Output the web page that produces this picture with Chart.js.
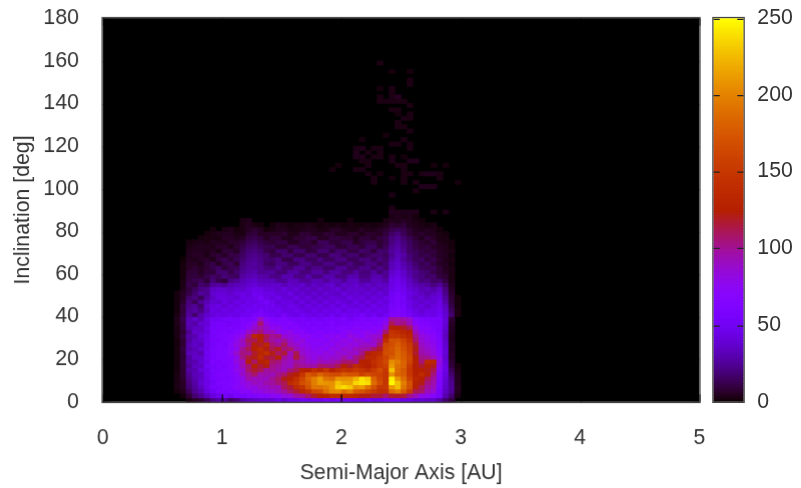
<!DOCTYPE html>
<html><head><meta charset="utf-8">
<script src="https://cdn.jsdelivr.net/npm/chart.js@4/dist/chart.umd.min.js"></script>
<style>html,body{margin:0;padding:0;background:#fff;width:801px;height:488px;overflow:hidden}canvas{position:absolute;top:0;transform-origin:0 0;transform:scale(1.2516)}</style>
</head><body>
<canvas id="map" width="564" height="390" style="left:0"></canvas>
<canvas id="bar" width="76" height="390" style="left:705.9px"></canvas>
<script>
const xTicks=[0,1,2,3,4,5];
const yTicks=[0,20,40,60,80,100,120,140,160,180];
const cbarTicks=[0,50,100,150,200,250];
const binA=0.05, binI=2, firstCol=12;
// counts per semi-major-axis bin (0.60 AU upward), one array per 2-degree inclination band
const inc0=[0,0,3,6,8,14,22,28,26,16,20,28,32,34,36,38,38,44,38,46,46,50,48,52,48,54,48,54,48,50,48,46,50,44,46,52,48,50,44,44,38,40,36,36,28,18,10,0];
const inc2=[0,2,8,18,24,32,42,48,54,48,56,56,62,60,68,66,74,72,82,84,96,98,108,118,126,128,138,138,136,136,132,122,122,116,116,108,118,118,116,102,92,78,76,68,54,30,18,3];
const inc4=[2,4,14,24,30,42,50,60,58,62,62,72,70,80,80,86,86,92,98,108,116,132,142,162,166,188,202,204,188,198,178,172,162,152,142,142,188,198,178,152,112,108,92,86,58,34,24,5];
const inc6=[3,6,18,26,34,44,56,56,62,60,72,74,82,80,88,88,94,92,110,116,138,148,172,192,192,198,208,232,238,230,208,212,192,172,148,150,212,226,192,168,124,112,98,92,60,36,25,6];
const inc8=[3,6,20,28,38,46,52,62,60,66,68,80,84,92,88,96,98,106,112,138,148,168,178,198,212,208,206,228,218,216,236,242,238,188,168,148,248,226,198,172,128,122,104,96,62,38,24,5];
const inc10=[3,7,22,30,36,44,56,58,62,60,70,78,96,90,92,90,100,108,122,128,142,162,184,198,212,192,188,208,206,208,222,240,232,182,162,148,244,208,188,158,132,126,112,98,66,40,22,5];
const inc12=[3,8,24,32,34,48,54,62,60,66,70,88,98,108,94,96,92,102,108,120,126,148,176,168,184,172,168,166,178,172,172,158,168,162,158,148,206,184,178,150,128,138,124,104,68,42,18,4];
const inc14=[2,8,28,30,40,46,56,56,62,64,78,86,108,118,112,98,100,96,92,104,112,128,126,142,132,148,126,138,146,142,152,146,138,152,166,150,228,188,176,148,126,128,122,112,72,44,14,3];
const inc16=[2,8,24,34,34,50,54,60,58,66,74,94,106,128,116,122,102,98,92,90,104,100,98,96,108,106,104,112,128,118,138,130,124,138,152,158,212,190,182,152,124,118,128,120,78,44,10,2];
const inc18=[2,9,28,30,38,46,60,58,62,64,82,92,124,108,128,132,108,104,94,90,98,94,88,86,92,90,94,98,106,108,102,128,128,142,152,164,205,196,182,162,128,106,136,134,82,42,8,0];
const inc20=[2,8,26,36,36,48,56,62,64,66,78,102,116,122,138,118,114,126,98,92,116,96,86,78,88,82,88,86,98,88,104,112,134,136,148,160,178,188,178,164,124,102,100,92,76,38,6,0];
const inc22=[2,8,32,34,30,50,58,60,60,72,88,104,102,118,132,140,122,108,116,92,112,88,82,80,76,84,78,88,84,90,88,102,122,132,138,168,170,186,176,158,118,96,92,84,68,40,6,0];
const inc24=[2,10,28,32,38,46,56,60,62,68,76,100,112,128,136,122,112,120,104,108,92,86,80,74,78,72,82,80,88,84,92,96,98,110,120,165,172,184,170,156,122,94,88,82,66,40,5,0];
const inc26=[2,8,30,36,32,48,54,62,58,70,82,88,104,124,118,135,106,100,110,92,88,80,76,70,70,76,72,82,78,84,80,88,90,86,108,162,168,180,166,152,118,90,84,78,64,38,5,0];
const inc28=[2,8,26,34,36,46,58,58,62,66,78,92,110,112,128,108,98,92,100,88,78,84,70,72,72,68,78,74,82,76,86,84,78,88,98,140,170,172,160,142,108,86,80,74,62,36,4,0];
const inc30=[3,10,28,30,40,46,54,60,60,66,72,80,102,135,125,112,100,104,86,82,80,72,74,68,66,74,70,76,70,82,78,72,82,86,88,128,150,148,140,132,102,84,78,70,60,34,4,0];
const inc32=[3,8,24,36,36,42,56,56,60,58,64,70,88,98,106,90,92,78,74,80,68,70,62,60,66,62,66,64,70,74,68,72,76,70,80,108,146,140,132,125,92,76,68,66,56,36,5,0];
const inc34=[3,10,30,34,34,44,54,58,56,60,58,64,74,88,96,88,76,78,68,64,68,62,58,64,56,62,60,64,66,60,70,66,66,70,68,88,128,126,120,110,84,68,70,60,58,38,5,0];
const inc36=[4,10,32,28,38,40,54,56,56,54,58,62,66,78,108,80,70,66,64,68,60,56,60,56,60,56,62,58,58,62,64,62,66,60,66,78,112,100,104,92,72,64,62,58,58,40,6,0];
const inc38=[4,12,30,36,30,42,50,50,54,56,54,60,58,64,90,70,62,60,64,58,54,58,52,56,52,56,58,54,60,52,58,62,58,62,60,66,100,98,96,88,66,60,58,58,56,40,8,0];
const inc40=[3,10,26,18,29,37,41,46,44,47,45,50,50,56,60,54,52,49,54,47,45,50,47,44,49,44,50,45,52,47,50,54,47,52,45,50,62,66,60,54,47,44,47,45,50,39,18,3];
const inc42=[2,9,24,27,22,32,44,41,46,42,47,46,52,50,54,51,47,52,45,44,49,45,41,47,42,47,44,49,42,47,49,44,49,44,49,45,58,62,58,50,44,39,44,44,49,36,15,3];
const inc44=[2,10,22,25,17,35,42,44,39,44,42,47,46,51,48,50,50,45,42,47,44,39,45,41,44,39,45,41,47,42,41,45,41,47,42,45,54,58,56,46,39,42,37,42,46,34,12,2];
const inc46=[2,7,20,14,24,31,38,37,44,39,45,42,47,46,50,54,47,41,45,44,39,44,38,42,38,44,39,44,41,38,45,39,44,39,45,41,52,58,52,46,41,36,41,38,44,29,10,2];
const inc48=[2,6,17,21,14,26,35,42,42,40,38,45,44,48,54,46,42,47,40,39,44,38,42,36,40,36,42,39,38,44,39,42,38,42,39,44,52,56,54,42,36,39,34,39,41,26,9,2];
const inc50=[2,6,11,18,26,23,38,41,40,36,42,44,42,50,48,44,45,40,39,44,36,40,35,39,35,40,37,35,42,37,40,36,40,36,42,36,50,54,50,44,39,34,30,34,38,23,7,0];
const inc52=[0,4,10,15,21,24,34,37,36,34,38,36,42,46,44,40,40,36,42,36,40,34,37,33,38,34,36,40,33,38,36,37,34,38,33,37,46,52,48,40,36,31,33,28,34,20,6,0];
const inc54=[0,3,12,9,18,15,26,28,24,30,32,34,38,40,36,36,36,38,32,36,34,38,30,36,32,36,38,30,36,34,38,32,36,32,36,34,44,50,46,36,32,29,26,21,26,16,4,0];
const inc56=[0,3,10,12,14,9,19,12,9,21,25,31,35,37,32,32,32,26,26,33,33,26,26,32,32,26,32,32,26,34,34,26,26,32,32,28,44,48,42,34,27,20,22,16,17,10,3,0];
const inc58=[0,2,9,10,8,12,16,14,20,16,15,27,31,32,29,28,22,22,30,30,22,22,30,21,21,30,30,22,22,30,30,22,22,30,30,24,40,44,38,30,23,21,16,18,10,8,3,0];
const inc60=[0,2,8,9,6,10,9,17,18,12,17,24,28,30,24,25,26,19,19,27,27,20,20,27,27,20,27,27,20,20,27,20,20,27,19,24,36,42,36,28,24,19,17,12,9,6,3,0];
const inc62=[0,2,6,8,6,8,12,15,9,13,14,22,26,26,24,20,19,25,18,18,25,25,17,22,22,17,17,25,25,18,18,23,23,17,23,18,32,38,32,26,20,15,13,14,9,5,3,0];
const inc64=[0,2,6,6,4,9,11,6,11,14,8,20,25,27,23,16,15,21,21,15,15,22,22,16,16,22,22,16,16,22,15,15,21,21,15,19,32,36,30,24,18,13,15,10,6,5,2,0];
const inc66=[0,1,5,4,6,7,4,10,13,9,13,18,23,25,22,18,17,21,12,12,21,21,15,15,21,15,15,21,21,14,14,20,20,14,20,16,28,34,26,20,14,16,10,12,7,4,3,0];
const inc68=[0,0,4,6,6,3,7,9,6,11,11,15,21,23,20,18,12,12,18,18,12,12,18,18,12,12,20,20,14,18,18,11,14,18,18,15,24,32,28,19,15,11,12,9,6,5,2,0];
const inc70=[0,0,4,5,5,4,6,3,9,9,6,14,19,21,18,12,10,17,17,10,17,17,10,11,18,18,11,17,17,11,11,17,15,10,17,17,26,30,24,16,14,11,9,10,6,4,3,0];
const inc72=[0,0,3,4,5,5,4,7,7,4,8,12,16,18,15,13,13,8,8,13,13,9,9,12,12,15,15,9,9,13,13,9,15,15,9,14,24,28,22,16,11,9,10,6,5,4,2,0];
const inc74=[0,0,2,3,4,3,5,5,4,7,7,9,14,15,12,10,8,11,11,6,6,10,10,6,14,14,9,9,12,12,6,10,12,12,8,12,20,26,20,15,11,8,6,9,4,3,2,0];
const inc76=[0,0,0,0,2,3,3,3,6,6,4,6,11,12,10,6,9,9,5,5,8,8,11,11,6,6,10,10,8,8,5,9,9,6,10,12,20,24,18,13,8,5,9,6,3,3,0,0];
const inc78=[0,0,0,0,0,2,3,4,5,5,3,3,8,10,6,6,6,6,8,4,4,8,8,5,5,8,8,5,5,7,7,4,7,7,6,10,16,20,14,9,6,7,5,5,3,2,0,0];
const inc80=[0,0,0,0,0,0,2,0,3,4,2,3,6,8,6,2,3,5,5,3,3,4,5,5,3,3,6,6,4,3,3,6,4,4,6,8,12,14,12,8,5,4,5,4,2,0,0,0];
const inc82=[0,0,0,0,0,0,0,0,0,0,0,3,5,3,2,0,2,4,3,2,3,3,4,3,2,3,2,3,2,3,2,2,3,2,3,4,8,7,9,5,4,3,2,3,0,0,0,0];
const inc84=[0,0,0,0,0,0,0,0,0,0,0,3,4,0,0,0,0,0,0,0,0,0,0,0,2,0,0,0,0,2,0,0,0,0,0,3,5,4,6,4,3,2,0,0,0,0,0,0];
const inc86=[0,0,0,0,0,0,0,0,0,0,0,0,0,0,0,0,0,0,0,0,0,0,0,0,0,0,0,0,0,0,0,0,0,0,0,0,3,5,3,4,2,0,0,0,0,0,0,0];
const bands=[inc0,inc2,inc4,inc6,inc8,inc10,inc12,inc14,inc16,inc18,inc20,inc22,inc24,inc26,inc28,inc30,inc32,inc34,inc36,inc38,inc40,inc42,inc44,inc46,inc48,inc50,inc52,inc54,inc56,inc58,inc60,inc62,inc64,inc66,inc68,inc70,inc72,inc74,inc76,inc78,inc80,inc82,inc84,inc86];
// isolated high-inclination bins: column, band, count
const sparseCol=[46,48,51,51,51,46,48,48,46,48,49,46,47,48,49,50,51,48,49,49,51,50,51,49,49,50,51,47,50,43,48,49,51,51,42,43,45,46,42,44,46,42,43,45,46,43,44,48,50,48,51,52,49,50,44,39,38,42,43,50,55,57,44,46,50,51,53,54,55,56,56,45,45,48,50,50,52,59,53,54,55,52,48,48,48,49,50,51,52,55,57];
const sparseBand=[79,77,77,75,74,73,73,72,71,71,71,70,70,70,70,70,69,68,68,67,67,66,66,65,64,64,63,62,61,61,60,60,60,59,59,59,59,59,58,58,58,57,57,57,57,56,56,57,57,56,56,56,55,55,55,55,54,54,54,54,55,55,53,53,53,53,53,53,53,53,52,52,51,52,52,51,51,51,50,50,50,49,48,45,44,44,44,44,44,44,44];
const sparseVal=[3,2,2,3,3,2,3,3,3,3,6,3,3,3,3,3,3,3,3,2,3,3,3,3,3,3,3,2,3,2,3,3,3,3,3,4,3,3,4,3,3,4,4,3,3,3,3,3,2,3,4,4,3,3,3,2,2,3,3,3,2,2,3,2,3,3,3,4,4,3,3,3,3,2,3,3,3,2,4,4,4,3,3,3,5,4,4,4,4,3,3];

function palette(v){
  const t=Math.min(1,Math.max(0,v/250));
  const r=Math.sqrt(t),g=t*t*t,b=Math.max(0,Math.sin(2*Math.PI*t));
  return `rgb(${Math.round(r*255)},${Math.round(g*255)},${Math.round(b*255)})`;
}
const cells=[];
bands.forEach((row,b)=>row.forEach((v,i)=>{
  if(v>0){const c=firstCol+i;cells.push({x:(c+0.5)*binA,y:[b*binI,(b+1)*binI],v});}
}));
sparseCol.forEach((c,i)=>cells.push({x:(c+0.5)*binA,y:[sparseBand[i]*binI,(sparseBand[i]+1)*binI],v:sparseVal[i]}));

const font={family:'"Liberation Sans",Arial,sans-serif',size:17};
const textColor='#333';
const G={x0:82,x1:558,y0:14.5,y1:321};
const scaleUp=1.2516;

const frame={id:'frame',
  beforeDatasetsDraw(c){const a=c.chartArea,k=c.ctx;k.save();k.fillStyle='#000';k.fillRect(a.left,a.top,a.width,a.height);k.restore();},
  afterDatasetsDraw(c){const a=c.chartArea,k=c.ctx;k.save();k.strokeStyle='#000';k.lineWidth=1;k.beginPath();
    xTicks.forEach(t=>{const p=Math.round(c.scales.x.getPixelForValue(t))+0.5;k.moveTo(p,a.bottom);k.lineTo(p,a.bottom-6);k.moveTo(p,a.top);k.lineTo(p,a.top+6);});
    yTicks.forEach(t=>{const p=Math.round(c.scales.y.getPixelForValue(t))+0.5;k.moveTo(a.left,p);k.lineTo(a.left+6,p);k.moveTo(a.right,p);k.lineTo(a.right-6,p);});
    k.stroke();k.strokeStyle='#444';k.strokeRect(a.left-0.5,a.top-0.5,a.width+1,a.height+1);k.restore();}
};
new Chart(document.getElementById('map'),{
  type:'bar',
  data:{datasets:[{data:cells,backgroundColor:ctx=>palette(ctx.raw.v),borderWidth:0,barPercentage:1,categoryPercentage:1,inflateAmount:0.3}]},
  plugins:[frame],
  options:{responsive:false,animation:false,events:[],devicePixelRatio:scaleUp,
    layout:{padding:{top:G.y0,right:564-G.x1,left:0,bottom:0}},
    plugins:{legend:{display:false},tooltip:{enabled:false}},
    scales:{
      x:{type:'linear',min:0,max:5,offset:false,grid:{display:false,offset:false},border:{display:false},
        afterFit(s){s.height=390-G.y1;s.paddingLeft=0;s.paddingRight=0;},afterBuildTicks(s){s.ticks=xTicks.map(value=>({value}));},
        ticks:{font,color:textColor,padding:11,maxRotation:0,autoSkip:false},
        title:{display:true,text:'Semi-Major Axis [AU]',font,color:textColor,padding:{top:0,bottom:2}}},
      y:{type:'linear',min:0,max:180,grid:{display:false},border:{display:false},
        afterFit(s){s.width=G.x0;s.paddingTop=0;s.paddingBottom=0;},afterBuildTicks(s){s.ticks=yTicks.map(value=>({value}));},
        ticks:{font,color:textColor,padding:11,autoSkip:false},
        title:{display:true,text:'Inclination [deg]',font,color:textColor,padding:{top:8,bottom:0}}}
    }}
});

// colour box: a stack of one-unit bars on its own value axis
const boxCells=[];
for(let v=0;v<250;v++)boxCells.push({x:0,y:[v,v+1],v:v+0.5});
const boxFrame={id:'boxFrame',afterDatasetsDraw(c){const a=c.chartArea,k=c.ctx;k.save();k.strokeStyle='#222';k.lineWidth=1;k.beginPath();
    cbarTicks.forEach(t=>{const p=Math.round(c.scales.y.getPixelForValue(t))+0.5;k.moveTo(a.left,p);k.lineTo(a.left+5,p);k.moveTo(a.right,p);k.lineTo(a.right-5,p);});
    k.stroke();k.strokeStyle='#444';k.strokeRect(a.left-0.5,a.top-0.5,a.width+1,a.height+1);k.restore();}};
new Chart(document.getElementById('bar'),{
  type:'bar',
  data:{labels:[0],datasets:[{data:boxCells,backgroundColor:ctx=>palette(ctx.raw.v),borderWidth:0,barPercentage:1,categoryPercentage:1}]},
  plugins:[boxFrame],
  options:{responsive:false,animation:false,events:[],devicePixelRatio:scaleUp,
    layout:{padding:{top:G.y0,bottom:390-G.y1,left:6,right:0}},
    plugins:{legend:{display:false},tooltip:{enabled:false}},
    scales:{
      x:{type:'category',display:false,labels:[0]},
      y:{type:'linear',position:'right',min:0,max:250,grid:{display:false},border:{display:false},
        afterFit(s){s.width=46;s.paddingTop=0;s.paddingBottom=0;},afterBuildTicks(s){s.ticks=cbarTicks.map(value=>({value}));},
        ticks:{font,color:textColor,padding:3,autoSkip:false}}
    }}
});
</script>
</body></html>
